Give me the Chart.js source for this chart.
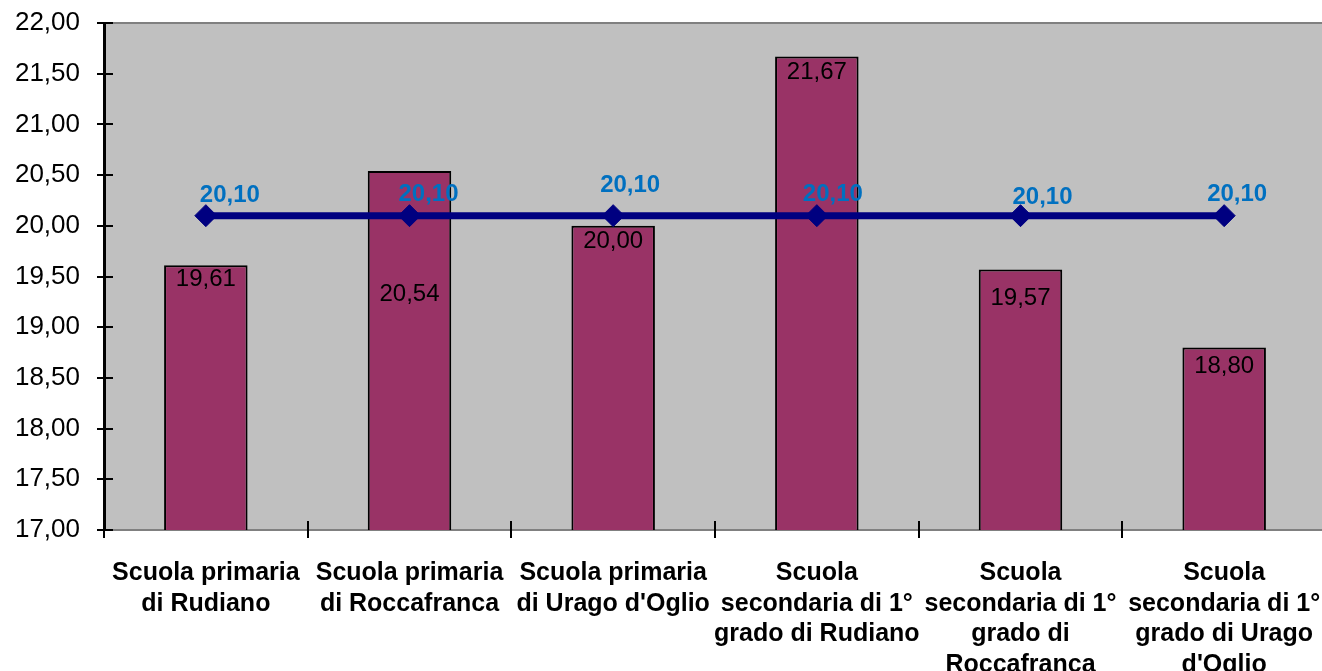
<!DOCTYPE html>
<html><head><meta charset="utf-8">
<script src="https://cdn.jsdelivr.net/npm/chart.js@4"></script>
<style>
html,body{margin:0;padding:0;overflow:hidden;background:#fff;width:1322px;height:671px}
#wrap{width:1338px;height:671px;position:relative}
</style></head>
<body><div id="wrap"><canvas id="c" width="1338" height="671"></canvas></div>
<script>
const categories = [
  ["Scuola primaria","di Rudiano"],
  ["Scuola primaria","di Roccafranca"],
  ["Scuola primaria","di Urago d'Oglio"],
  ["Scuola","secondaria di 1°","grado di Rudiano"],
  ["Scuola","secondaria di 1°","grado di","Roccafranca"],
  ["Scuola","secondaria di 1°","grado di Urago","d'Oglio"]
];
const schoolValues = [19.61, 20.54, 20.00, 21.67, 19.57, 18.80];
const averageValues = [20.10, 20.10, 20.10, 20.10, 20.10, 20.10];
const yMin = 17, yMax = 22, yStep = 0.5;

const FONT = "'Liberation Sans', Arial, sans-serif";
const fmt = v => Number(v).toFixed(2).replace('.', ',');

const deco = {
  id: 'deco',
  beforeDraw(chart) {
    const {ctx, chartArea: a} = chart;
    ctx.save();
    ctx.fillStyle = '#C0C0C0';
    ctx.fillRect(a.left, a.top, a.right - a.left, a.bottom - a.top);
    ctx.strokeStyle = '#808080';
    ctx.lineWidth = 2;
    ctx.beginPath();
    ctx.moveTo(a.left, a.top); ctx.lineTo(a.right, a.top);
    ctx.moveTo(a.right - 1, a.top); ctx.lineTo(a.right - 1, a.bottom);
    ctx.stroke();
    ctx.restore();
  },
  afterDraw(chart, args, opts) {
    const {ctx, chartArea: a, scales} = chart;
    ctx.save();
    ctx.strokeStyle = '#000';
    ctx.lineWidth = 2;
    scales.y.ticks.forEach(t => {
      const y = Math.round(scales.y.getPixelForValue(t.value));
      ctx.beginPath(); ctx.moveTo(a.left - 7, y); ctx.lineTo(a.left + 9, y); ctx.stroke();
    });
    const n = categories.length;
    for (let i = 0; i <= n; i++) {
      const x = Math.round(a.left + i * (a.right - a.left) / n);
      ctx.beginPath(); ctx.moveTo(x, a.bottom - 9); ctx.lineTo(x, a.bottom + 8); ctx.stroke();
    }
    const mb = chart.getDatasetMeta(0);
    ctx.font = '24px ' + FONT;
    ctx.fillStyle = '#000';
    ctx.textAlign = 'center';
    ctx.textBaseline = 'middle';
    mb.data.forEach((el, i) => {
      ctx.fillText(fmt(schoolValues[i]), el.x, el.y + opts.barDy[i]);
    });
    const ml = chart.getDatasetMeta(1);
    ctx.font = 'bold 24px ' + FONT;
    ctx.fillStyle = '#0070C0';
    ml.data.forEach((el, i) => {
      ctx.fillText(fmt(averageValues[i]), el.x + opts.lineDx[i], el.y + opts.lineDy[i]);
    });
    ctx.restore();
  }
};

new Chart(document.getElementById('c'), {
  data: {
    labels: categories,
    datasets: [
      {
        type: 'bar',
        data: schoolValues,
        backgroundColor: '#993366',
        borderColor: '#000000',
        borderWidth: 2,
        borderSkipped: 'bottom',
        categoryPercentage: 1,
        barPercentage: 0.41,
        order: 2
      },
      {
        type: 'line',
        data: averageValues,
        borderColor: '#000080',
        borderWidth: 7,
        pointStyle: 'rectRot',
        pointRadius: 11,
        pointBackgroundColor: '#000080',
        pointBorderColor: '#000080',
        pointBorderWidth: 1,
        tension: 0,
        order: 1
      }
    ]
  },
  options: {
    responsive: false,
    animation: false,
    layout: {padding: {top: 23, right: 0, bottom: 0, left: 0}},
    plugins: {
      legend: {display: false},
      tooltip: {enabled: false},
      deco: {
        barDy: [14, 123, 16, 16, 29, 19],
        lineDx: [24, 19, 17, 16, 22, 13],
        lineDy: [-20, -21, -30, -21, -18, -21]
      }
    },
    scales: {
      x: {
        offset: true,
        grid: {display: false, drawTicks: false},
        border: {display: true, color: '#808080', width: 2},
        ticks: {
          color: '#000',
          font: {family: FONT, size: 25, weight: 'bold', lineHeight: 1.22},
          padding: 28,
          maxRotation: 0,
          autoSkip: false
        },
        afterFit(s) { s.height = 141; s.paddingLeft = 0; s.paddingRight = 0; }
      },
      y: {
        min: yMin, max: yMax,
        grid: {display: false, drawTicks: false},
        border: {display: true, color: '#000', width: 3},
        ticks: {
          stepSize: yStep,
          color: '#000',
          font: {family: FONT, size: 26},
          padding: 24,
          callback: v => fmt(v)
        },
        afterFit(s) { s.width = 104; s.paddingTop = 0; s.paddingBottom = 0; s.paddingLeft = 0; s.paddingRight = 0; }
      }
    }
  },
  plugins: [deco]
});
</script>
</body></html>
